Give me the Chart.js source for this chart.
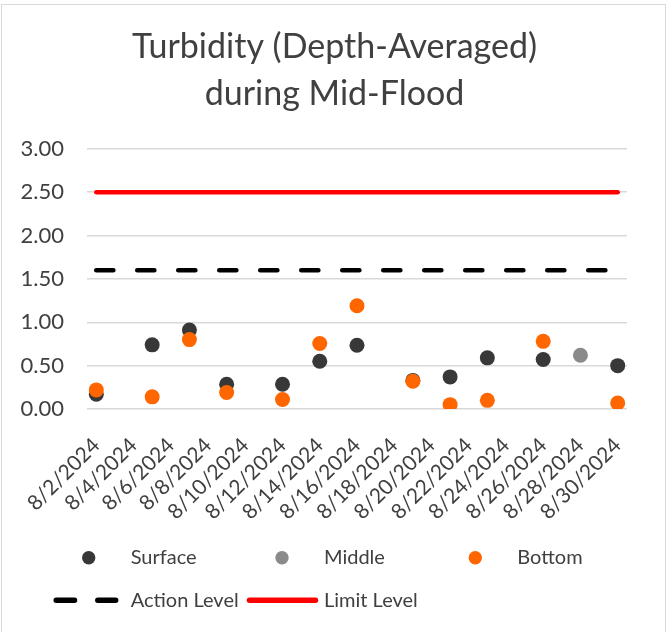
<!DOCTYPE html>
<html>
<head>
<meta charset="utf-8">
<script src="https://cdn.jsdelivr.net/npm/chart.js@4.4.1/dist/chart.umd.min.js"></script>
<style>
  html, body { margin: 0; padding: 0; background: #fff; }
  #frame { position: absolute; left: 1px; top: 4px; width: 663px; height: 640px; border: 1.5px solid #d9d9d9; }
  #turb { position: absolute; left: 0; top: 0; }
</style>
</head>
<body>
<div id="frame"></div>
<canvas id="turb" width="669" height="632"></canvas>
<script>
// one category per day, labels shown every other day
const days = [
  '8/2/2024', '8/3/2024', '8/4/2024', '8/5/2024', '8/6/2024', '8/7/2024', '8/8/2024',
  '8/9/2024', '8/10/2024', '8/11/2024', '8/12/2024', '8/13/2024', '8/14/2024', '8/15/2024',
  '8/16/2024', '8/17/2024', '8/18/2024', '8/19/2024', '8/20/2024', '8/21/2024', '8/22/2024',
  '8/23/2024', '8/24/2024', '8/25/2024', '8/26/2024', '8/27/2024', '8/28/2024', '8/29/2024',
  '8/30/2024'
];

const surface = [0.17, null, null, 0.74, null, 0.91, null, 0.285, null, null, 0.285, null, 0.55, null,
  0.735, null, null, 0.33, null, 0.37, null, 0.59, null, null, 0.57, null, null, null, 0.50];
const middle = [null, null, null, null, null, null, null, null, null, null, null, null, null, null,
  null, null, null, null, null, null, null, null, null, null, null, null, 0.62, null, null];
const bottom = [0.22, null, null, 0.14, null, 0.80, null, 0.19, null, null, 0.11, null, 0.755, null,
  1.19, null, null, 0.32, null, 0.05, null, 0.10, null, null, 0.78, null, null, null, 0.07];

const actionLevel = 1.6;
const limitLevel = 2.5;
const yTicks = [0, 0.5, 1, 1.5, 2, 2.5, 3];

const txt = '#404040';
const fontFam = 'Lato, "Open Sans", sans-serif';

const dot = (label, data, color, order) => ({
  label, data, order,
  showLine: false,
  pointRadius: 7.5,
  pointHoverRadius: 7.5,
  pointBackgroundColor: color,
  pointBorderColor: color,
  pointBorderWidth: 0,
  backgroundColor: color,
  borderColor: color
});

// legend laid out in a 3 column grid like the original
const gridLegend = {
  id: 'gridLegend',
  afterDraw(chart) {
    const ctx = chart.ctx;
    const cols = [130.7, 324, 517.3];
    const rows = [557.7, 600.3];
    ctx.save();
    ctx.font = '20px ' + fontFam;
    ctx.textBaseline = 'middle';
    chart.data.datasets.forEach((ds, i) => {
      const tx = cols[i % 3];
      const ty = rows[Math.floor(i / 3)];
      if (ds.showLine === false) {
        ctx.beginPath();
        ctx.fillStyle = ds.pointBackgroundColor;
        ctx.arc(tx - 42, ty, 6.7, 0, Math.PI * 2);
        ctx.fill();
      } else {
        ctx.beginPath();
        ctx.strokeStyle = ds.borderColor;
        ctx.lineWidth = 5.5;
        ctx.lineCap = 'round';
        ctx.setLineDash(ds.borderDash ? [18.3, 23.3] : []);
        ctx.moveTo(tx - 74.5, ty);
        ctx.lineTo(tx - 15, ty);
        if (!ds.borderDash) ctx.lineTo(tx - 8.5, ty);
        ctx.stroke();
        ctx.setLineDash([]);
      }
      ctx.fillStyle = txt;
      ctx.fillText(ds.label, tx, ty);
    });
    ctx.restore();
  }
};

new Chart(document.getElementById('turb'), {
  type: 'line',
  data: {
    labels: days,
    datasets: [
      dot('Surface', surface, '#383838', 3),
      dot('Middle', middle, '#8a8a8a', 2),
      dot('Bottom', bottom, '#ff6600', 1),
      {
        label: 'Action Level',
        data: days.map(() => actionLevel),
        borderColor: '#000000',
        borderWidth: 4.7,
        borderDash: [17, 24],
        borderCapStyle: 'round',
        pointRadius: 0,
        order: 5
      },
      {
        label: 'Limit Level',
        data: days.map(() => limitLevel),
        borderColor: '#ff0000',
        borderWidth: 4.5,
        borderCapStyle: 'round',
        pointRadius: 0,
        order: 4
      }
    ]
  },
  options: {
    responsive: false,
    animation: false,
    layout: { padding: 0 },
    scales: {
      x: {
        offset: true,
        grid: { display: false },
        border: { display: false },
        ticks: {
          autoSkip: false,
          minRotation: 45,
          maxRotation: 45,
          padding: 16,
          color: txt,
          font: { family: fontFam, size: 21 },
          callback: (v, i) => (i % 2 === 0 ? days[i] : '')
        },
        afterFit: s => { s.height = 223; }
      },
      y: {
        min: 0,
        max: 3,
        afterBuildTicks: s => { s.ticks = yTicks.map(v => ({ value: v })); },
        grid: { color: '#d9d9d9', lineWidth: 1.5, drawTicks: false },
        border: { display: false },
        ticks: {
          padding: 23,
          color: txt,
          font: { family: fontFam, size: 22 },
          callback: v => v.toFixed(2)
        },
        afterFit: s => { s.width = 87; }
      },
      // empty right-hand gutter so the title stays centred on the whole chart
      gutter: {
        type: 'linear',
        position: 'right',
        grid: { display: false },
        border: { display: false },
        ticks: { display: false },
        afterFit: s => { s.width = 42; }
      }
    },
    plugins: {
      legend: { display: false },
      tooltip: { enabled: false },
      title: {
        display: true,
        text: ['Turbidity (Depth-Averaged)', 'during Mid-Flood'],
        color: txt,
        font: { family: fontFam, size: 34, weight: 'normal', lineHeight: 1.38 },
        padding: { top: 24, bottom: 31 }
      }
    }
  },
  plugins: [gridLegend]
});
</script>
</body>
</html>
